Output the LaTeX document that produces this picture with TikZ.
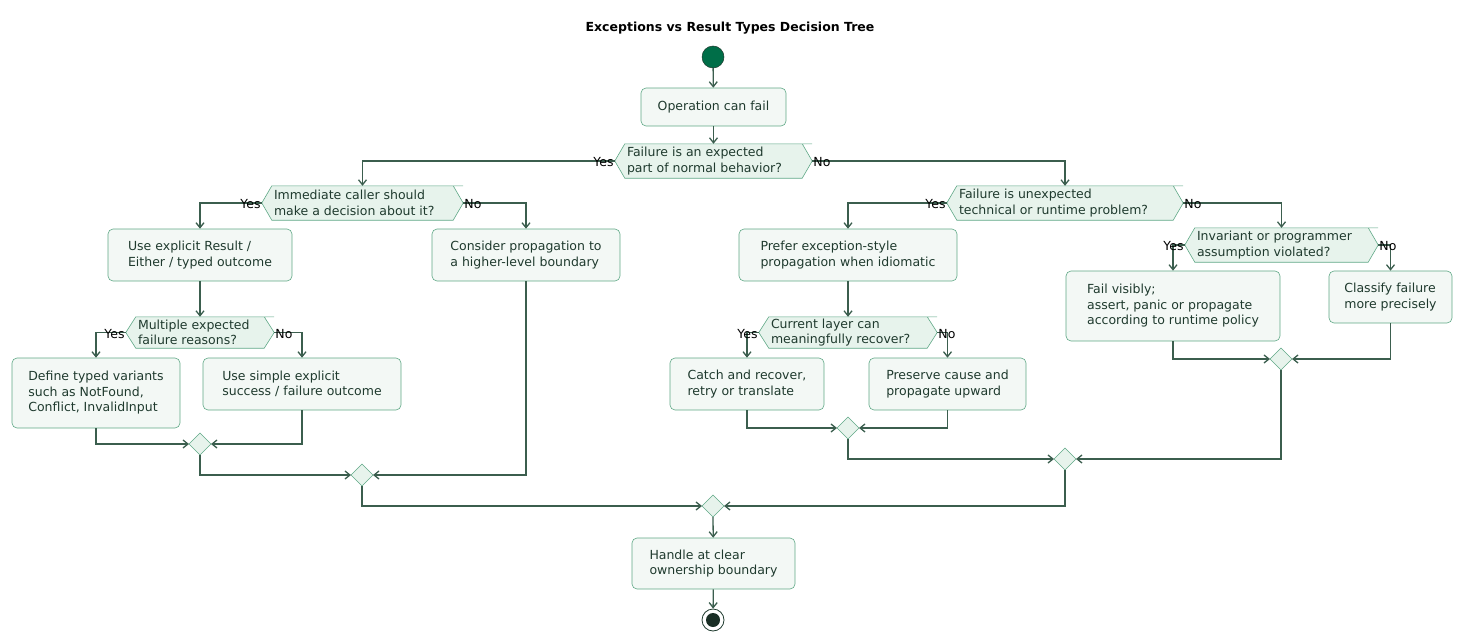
\documentclass[tikz,border=0pt]{standalone}
\usepackage{fontspec}
\setmainfont{DejaVu Sans}
\usetikzlibrary{arrows.meta}
\definecolor{ln}{HTML}{3B5E4E}
\definecolor{bx}{HTML}{F3F8F5}
\definecolor{bd}{HTML}{5FA886}
\definecolor{hx}{HTML}{E7F3EC}
\definecolor{tx}{HTML}{1F3A2E}
\definecolor{st}{HTML}{006E48}
\begin{document}
\begin{tikzpicture}[x=1pt,y=-1pt,
  every node/.style={font=\fontsize{12.5}{15.5}\selectfont, text=tx},
  box/.style={draw=bd, fill=bx, rounded corners=5pt, align=left, inner sep=0pt, line width=0.6pt},
  hexn/.style={draw=none, align=left, inner sep=0pt},
  dia/.style={draw=bd, fill=hx, line width=0.6pt},
  arr/.style={draw=ln, line width=1.3pt, -{Straight Barb[length=5pt,width=8pt]}},
  lbl/.style={text=black, inner sep=1pt}]
\useasboundingbox (0,0) rectangle (1462,642);
\newcommand{\mkbox}[6]{\node[box, minimum width=#3-#2, minimum height=#5-#4] (#1) at ({(#2+#3)/2},{(#4+#5)/2}) {#6};}
\newcommand{\mkhex}[6]{\node[hexn, minimum width=#3-#2, minimum height=#5-#4] (#1) at ({(#2+#3)/2},{(#4+#5)/2}) {};
  \draw[dia] (#1.west) -- ([xshift=10pt]#1.north west) -- (#1.north east) -- ([xshift=-10pt]#1.north east) -- (#1.east) -- ([xshift=-10pt]#1.south east) -- ([xshift=10pt]#1.south west) -- cycle;
  \path (#1.west) ++(12,0) node[anchor=west, align=left, inner sep=0pt] {#6};}
\newcommand{\mkdia}[3]{\node[inner sep=0pt, minimum size=0pt] (#1) at (#2,#3) {};
  \draw[dia] (#2-11,#3) -- (#2,#3-11) -- (#2+11,#3) -- (#2,#3+11) -- cycle;
  \coordinate (#1w) at (#2-11,#3); \coordinate (#1e) at (#2+11,#3);
  \coordinate (#1n) at (#2,#3-11); \coordinate (#1s) at (#2,#3+11);}

\node[font=\fontsize{12.5}{15}\selectfont\bfseries, text=black] (title) at (730,28) {Exceptions vs Result Types Decision Tree};
\node[circle, fill=st, draw=tx, line width=0.5pt, minimum size=22pt, inner sep=0pt] (start) at (713,57) {};
\mkbox{op}{641}{786}{88}{126}{Operation can fail}
\mkhex{h1}{615}{812}{144}{178}{Failure is an expected\\part of normal behavior?}
\mkhex{h2}{262}{463}{186}{220}{Immediate caller should\\make a decision about it?}
\mkbox{b1}{108}{292}{229}{281}{Use explicit Result /\\Either / typed outcome}
\mkbox{b2}{432}{620}{229}{281}{Consider propagation to\\a higher-level boundary}
\mkhex{h3}{126}{274}{317}{348}{Multiple expected\\failure reasons?}
\mkbox{b3}{12}{180}{358}{428}{Define typed variants\\such as NotFound,\\Conflict, InvalidInput}
\mkbox{b4}{203}{401}{358}{410}{Use simple explicit\\success / failure outcome}
\mkdia{m1}{200}{444}
\mkdia{m2}{362}{475}
\mkdia{m3}{713}{506}
\mkhex{h4}{947}{1183}{186}{220}{Failure is unexpected\\technical or runtime problem?}
\mkbox{b5}{739}{957}{229}{281}{Prefer exception-style\\propagation when idiomatic}
\mkhex{h6}{759}{937}{317}{348}{Current layer can\\meaningfully recover?}
\mkbox{b6}{670}{824}{358}{410}{Catch and recover,\\retry or translate}
\mkbox{b7}{869}{1026}{358}{410}{Preserve cause and\\propagate upward}
\mkdia{m4}{848}{428}
\mkhex{h5}{1185}{1378}{228}{262}{Invariant or programmer\\assumption violated?}
\mkbox{b8}{1066}{1280}{271}{341}{Fail visibly;\\assert, panic or propagate\\according to runtime policy}
\mkbox{b9}{1329}{1452}{271}{323}{Classify failure\\more precisely}
\mkdia{m5}{1281}{359}
\mkdia{m6}{1065}{459}
\mkbox{hd}{632}{795}{538}{589}{Handle at clear\\ownership boundary}
\node[circle, draw=tx, line width=0.8pt, minimum size=22pt, inner sep=0pt] (end) at (713,620) {};
\node[circle, fill=tx!80!black, minimum size=14pt, inner sep=0pt] at (end) {};

\draw[arr] (start) -- (op);
\draw[arr] (op) -- (h1.north);
\draw[arr] (h1.west) -| (h2.north);
\draw[arr] (h1.east) -| (h4.north);
\draw[arr] (h2.west) -| (b1.north);
\draw[arr] (h2.east) -| (b2.north);
\draw[arr] (b1) -- (h3.north);
\draw[arr] (h3.west) -| (b3.north);
\draw[arr] (h3.east) -| (b4.north);
\draw[arr] (b3.south) |- (m1w);
\draw[arr] (b4.south) |- (m1e);
\draw[arr] (m1s) |- (m2w);
\draw[arr] (b2.south) |- (m2e);
\draw[arr] (m2s) |- (m3w);
\draw[arr] (h4.west) -| (b5.north);
\draw[arr] (h4.east) -| (h5.north);
\draw[arr] (b5) -- (h6.north);
\draw[arr] (h6.west) -| (b6.north);
\draw[arr] (h6.east) -| (b7.north);
\draw[arr] (b6.south) |- (m4w);
\draw[arr] (b7.south) |- (m4e);
\draw[arr] (h5.west) -| (b8.north);
\draw[arr] (h5.east) -| (b9.north);
\draw[arr] (b8.south) |- (m5w);
\draw[arr] (b9.south) |- (m5e);
\draw[arr] (m4s) |- (m6w);
\draw[arr] (m5s) |- (m6e);
\draw[arr] (m6s) |- (m3e);
\draw[arr] (m3s) -- (hd);
\draw[arr] (hd) -- (end);

\foreach \h in {h1,h2,h3,h4,h5,h6}{
  \node[lbl, anchor=south east] at ([yshift=-7pt]\h.west) {Yes};
  \node[lbl, anchor=south west] at ([yshift=-7pt]\h.east) {No};
}
\end{tikzpicture}
\end{document}
